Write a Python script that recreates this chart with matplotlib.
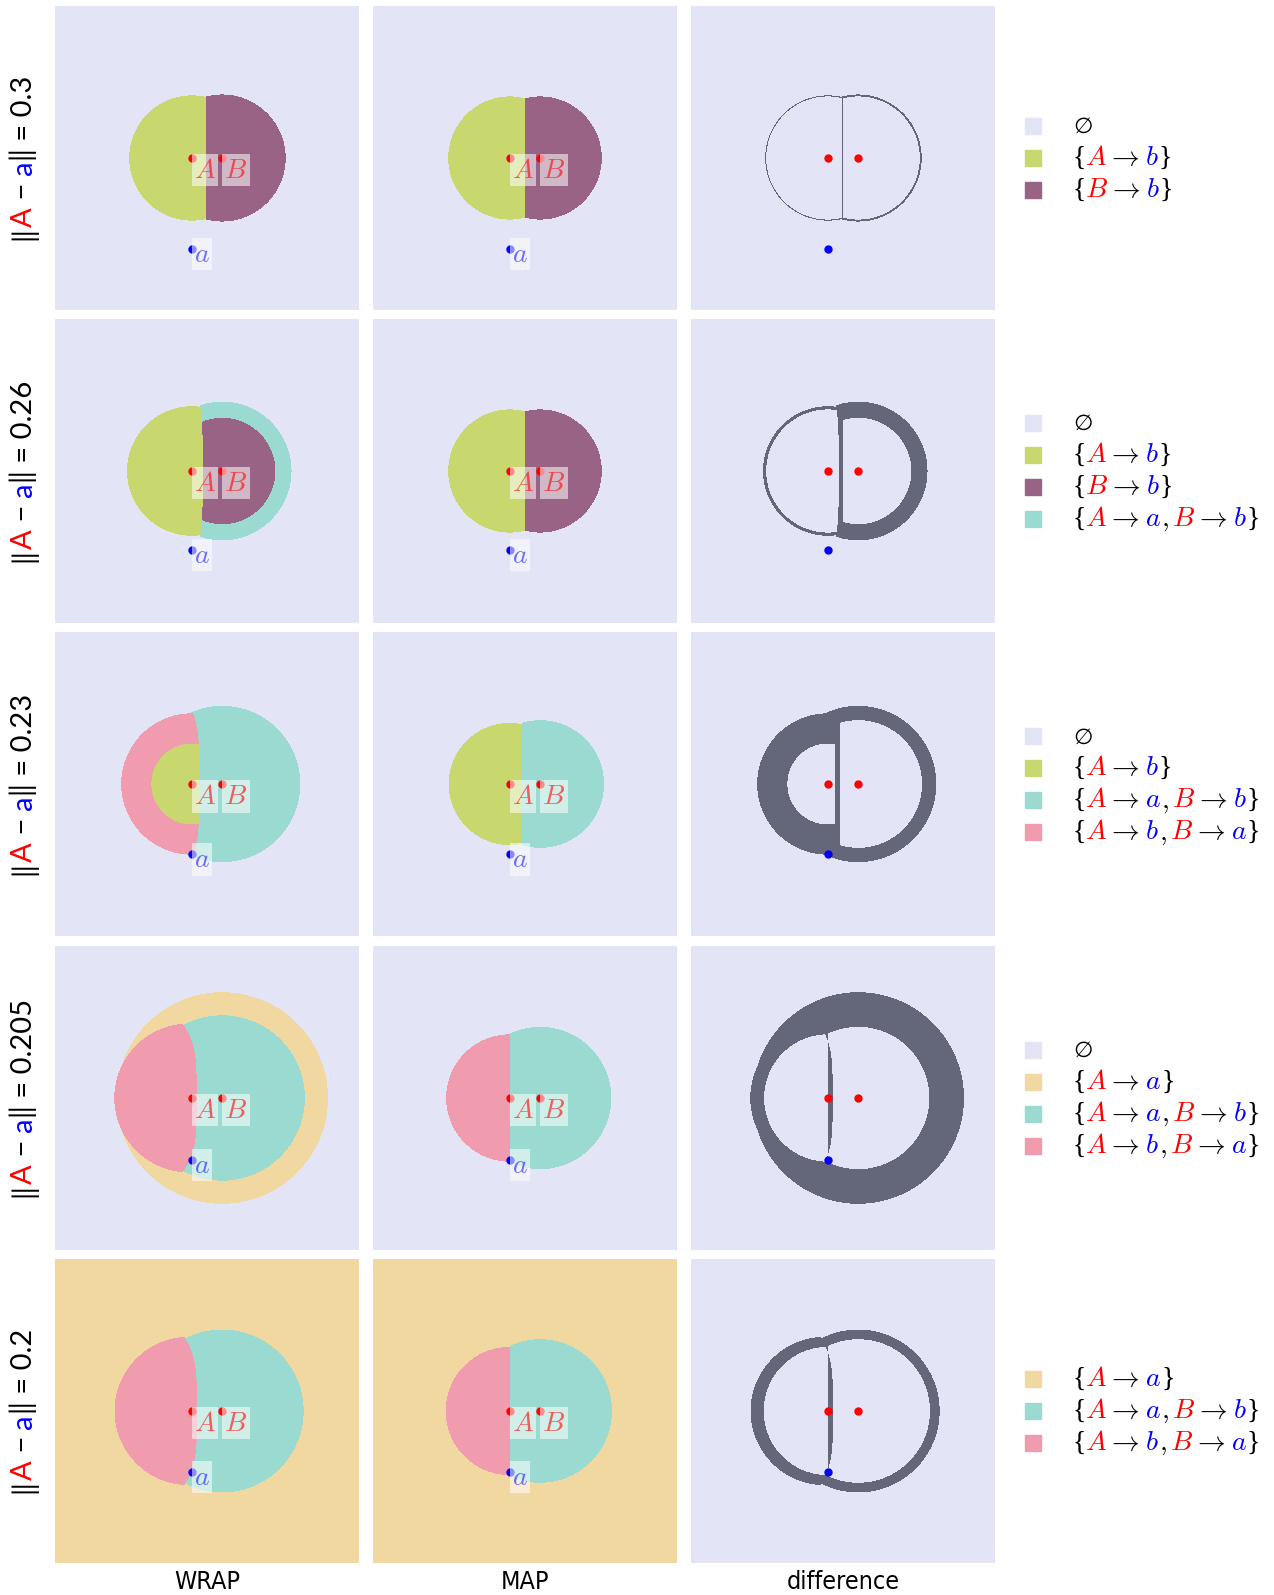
import numpy as np
import matplotlib.pyplot as plt
from matplotlib.colors import to_rgb
from matplotlib.patches import Rectangle
from matplotlib.transforms import IdentityTransform

plt.rcParams['mathtext.fontset'] = 'cm'

W, H = 1274, 1595

# distance ||A - a|| for each row
dists = [0.3, 0.26, 0.23, 0.205, 0.2]
dist_labels = ['0.3', '0.26', '0.23', '0.205', '0.2']
point_A = (-0.05, 0.0)
point_B = (0.05, 0.0)
columns = ['WRAP', 'MAP', 'difference']

# matchings
EMPTY, A_b, B_b, A_a, AaBb, AbBa = range(6)
region_colors = ['#e3e4f6', '#c8d86e', '#986385', '#f0d8a0', '#9bdad0', '#f09bae']
diff_color = '#646679'
region_text = [
    [('∅', 'k')],
    [('{', 'k'), (r'$A$', 'red'), (r'$\to$', 'k'), (r'$b$', 'blue'), ('}', 'k')],
    [('{', 'k'), (r'$B$', 'red'), (r'$\to$', 'k'), (r'$b$', 'blue'), ('}', 'k')],
    [('{', 'k'), (r'$A$', 'red'), (r'$\to$', 'k'), (r'$a$', 'blue'), ('}', 'k')],
    [('{', 'k'), (r'$A$', 'red'), (r'$\to$', 'k'), (r'$a$', 'blue'), (r'$,$', 'k'),
     (r'$B$', 'red'), (r'$\to$', 'k'), (r'$b$', 'blue'), ('}', 'k')],
    [('{', 'k'), (r'$A$', 'red'), (r'$\to$', 'k'), (r'$b$', 'blue'), (r'$,$', 'k'),
     (r'$B$', 'red'), (r'$\to$', 'k'), (r'$a$', 'blue'), ('}', 'k')],
]
legend_regions = [
    [EMPTY, A_b, B_b],
    [EMPTY, A_b, B_b, AaBb],
    [EMPTY, A_b, AaBb, AbBa],
    [EMPTY, A_a, AaBb, AbBa],
    [A_a, AaBb, AbBa],
]

# regions: (matching, centre x, radius, side of the split curve)
wrap_layers = [
    [(B_b, 0.05, 0.209, 1), (A_b, -0.05, 0.206, -1)],
    [(AaBb, 0.05, 0.228, 1), (B_b, 0.05, 0.175, 1), (A_b, -0.05, 0.213, -1)],
    [(AaBb, 0.05, 0.257, 0), (AbBa, -0.05, 0.2325, -1), (A_b, -0.05, 0.133, -1)],
    [(A_a, 0.05, 0.348, 0), (AaBb, 0.05, 0.272, 0), (AbBa, -0.06, 0.245, -1)],
    [(AaBb, 0.05, 0.268, 0), (AbBa, -0.06, 0.244, -1)],
]
map_layers = [
    [(A_b, -0.05, 0.2025, -1), (B_b, 0.05, 0.2025, 1)],
    [(A_b, -0.05, 0.2025, -1), (B_b, 0.05, 0.2025, 1)],
    [(A_b, -0.05, 0.201, -1), (AaBb, 0.05, 0.21, 1)],
    [(AbBa, -0.05, 0.2095, -1), (AaBb, 0.05, 0.234, 1)],
    [(AbBa, -0.05, 0.211, -1), (AaBb, 0.05, 0.236, 1)],
]
# split curve x = x0 - k * y^4
wrap_edges = [(-0.004, 0), (-0.014, 4), (-0.025, 7), (-0.034, 13), (-0.033, 12)]
map_edges = [(0.0, 0), (0.0, 0), (-0.011, 0), (-0.05, 0), (-0.05, 0)]
wrap_background = [EMPTY, EMPTY, EMPTY, EMPTY, A_a]
map_background = [EMPTY, EMPTY, EMPTY, EMPTY, A_a]


def region_grid(layers, edge, background, n=304):
    xs = (np.arange(n) + 0.5) / n - 0.5
    X, Y = np.meshgrid(xs, xs)
    grid = np.full((n, n), background)
    x0, k = edge
    xedge = x0 - k * Y ** 4
    for region, cx, r, side in layers:
        m = (X - cx) ** 2 + Y ** 2 <= r ** 2
        if side < 0:
            m &= X < xedge
        elif side > 0:
            m &= X >= xedge
        grid[m] = region
    return grid


palette = np.array([to_rgb(c) for c in region_colors])
fig = plt.figure(figsize=(W / 100, H / 100), dpi=100)
renderer = fig.canvas.get_renderer()

S = 304
col_x = [55, 373, 691]
row_y = [5.7 + 313.3 * i for i in range(5)]


def put_pieces(x, y, pieces, rotation=0, gaps=None, **kw):
    # place coloured pieces one after another along the baseline
    texts = []
    for i, (s, c) in enumerate(pieces):
        extra = dict(kw)
        if s in '{}':
            extra['family'] = 'Liberation Serif'
        t = fig.text(x, y, s, color=c, rotation=rotation, rotation_mode='anchor',
                     ha='left', va='baseline', transform=IdentityTransform(), **extra)
        bb = t.get_window_extent(renderer=renderer)
        gap = gaps(i, pieces) if gaps else 0
        if rotation:
            y += bb.height + gap
        else:
            x += bb.width + gap
        texts.append(t)
    return texts, (y if rotation else x)


def legend_gap(i, pieces):
    s = pieces[i][0]
    nxt = pieces[i + 1][0] if i + 1 < len(pieces) else ''
    if s == '{':
        return -1
    if 'to' in nxt:
        return 0
    if 'to' in s:
        return 5
    if s == r'$,$':
        return 3
    return 0


for i, d in enumerate(dists):
    grids = [region_grid(wrap_layers[i], wrap_edges[i], wrap_background[i]),
             region_grid(map_layers[i], map_edges[i], map_background[i])]
    diff = grids[0] != grids[1]
    images = [palette[grids[0]], palette[grids[1]],
              np.where(diff[..., None], np.array(to_rgb(diff_color)), palette[EMPTY])]
    for j in range(3):
        ax = fig.add_axes([col_x[j] / W, 1 - (row_y[i] + S) / H, S / W, S / H])
        ax.imshow(images[j], extent=(-0.5, 0.5, -0.5, 0.5), origin='lower',
                  interpolation='nearest', aspect='auto')
        ax.plot([point_A[0], point_B[0]], [point_A[1], point_B[1]], 'o', color='red', ms=5)
        ax.plot(point_A[0], point_A[1] - d, 'o', color='blue', ms=5)
        if j < 2:
            box = dict(boxstyle='square,pad=0.08', fc=(1, 1, 1, 0.55), ec='none')
            for s, (px, py), c, drop in [('$A$', point_A, (1, 0, 0, 0.6), 14.5),
                                         ('$B$', point_B, (1, 0, 0, 0.6), 14.5),
                                         ('$a$', (point_A[0], point_A[1] - d), (0, 0, 1, 0.55), 9.5)]:
                ax.annotate(s, (px, py), xytext=(1.5, -drop), textcoords='offset points',
                            ha='left', va='baseline', fontsize=20, color=c, bbox=box)
        ax.set_xlim(-0.5, 0.5)
        ax.set_ylim(-0.5, 0.5)
        ax.axis('off')

    # row label, rotated, pieces coloured
    pieces = [('‖', 'k'), ('A', 'red'), (' − ', 'k'), ('a', 'blue'), ('‖ = ' + dist_labels[i], 'k')]
    texts, end = put_pieces(32, 0, pieces, rotation=90, fontsize=21,
                            family=['Lato', 'DejaVu Sans'])
    centre = H - (row_y[i] + S / 2)
    shift = centre - end / 2
    for t in texts:
        x0, y0 = t.get_position()
        t.set_position((x0, y0 + shift))

    # legend
    entries = legend_regions[i]
    n = len(entries)
    for k, reg in enumerate(entries):
        hc = row_y[i] + S / 2 + (k - (n - 1) / 2) * 32
        fig.add_artist(Rectangle((1025, H - hc - 8), 16, 16, color=region_colors[reg],
                                 transform=IdentityTransform()))
        if reg == EMPTY:
            put_pieces(1073, H - hc - 7, region_text[reg], fontsize=16, family='DejaVu Sans')
        else:
            put_pieces(1073, H - hc - 7, region_text[reg], gaps=legend_gap, fontsize=20)

for j, name in enumerate(columns):
    fig.text((col_x[j] + S / 2) / W, 6 / H, name, ha='center', va='baseline', fontsize=18,
             family='DejaVu Sans', fontstretch='condensed')

fig.savefig('out.png', dpi=100)
